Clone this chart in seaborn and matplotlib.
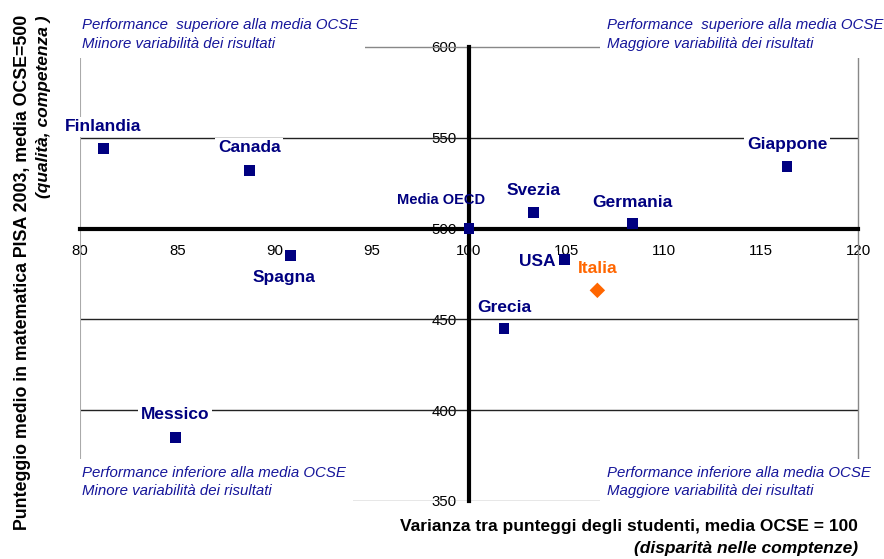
import matplotlib
matplotlib.use("Agg")
import matplotlib.pyplot as plt
import seaborn as sns
import pandas as pd

# ---- data ----
paesi = ["Finlandia", "Canada", "Spagna", "Media OECD", "Svezia", "Germania",
         "USA", "Italia", "Grecia", "Messico", "Giappone"]
varianza = [81.2, 88.7, 90.8, 100.0, 103.3, 108.4, 104.9, 106.6, 101.8, 84.9, 116.35]
punteggio = [544, 532, 485, 500, 509, 503, 483, 466, 445, 385, 534]
gruppo = ["paese"] * 7 + ["Italia"] + ["paese"] * 3

x_ticks = [80, 85, 90, 95, 100, 105, 110, 115, 120]
y_ticks = [350, 400, 450, 500, 550, 600]

quadranti = [
    "Performance  superiore alla media OCSE\nMiinore variabilità dei risultati",
    "Performance  superiore alla media OCSE\nMaggiore variabilità dei risultati",
    "Performance inferiore alla media OCSE\nMinore variabilità dei risultati",
    "Performance inferiore alla media OCSE\nMaggiore variabilità dei risultati",
]
y_label1 = "Punteggio medio in matematica PISA 2003, media OCSE=500"
y_label2 = "(qualità, competenza )"
x_label1 = "Varianza tra punteggi degli studenti, media OCSE = 100"
x_label2 = "(disparità nelle comptenze)"

# label offsets in pixels (layout)
offsets = {
    "Finlandia": (0, 22, "center"), "Canada": (0, 22.5, "center"),
    "Spagna": (-6, -22, "center"), "Media OECD": (-27.5, 28.5, "center"),
    "Svezia": (0, 22, "center"), "Germania": (0, 21, "center"),
    "USA": (-9, -2, "right"), "Italia": (0, 22, "center"),
    "Grecia": (0, 21, "center"), "Messico": (0, 23, "center"),
    "Giappone": (0, 22, "center"),
}

df = pd.DataFrame({"paese": paesi, "varianza": varianza,
                   "punteggio": punteggio, "gruppo": gruppo})

sns.set_style("white")
plt.rcParams["font.family"] = ["Liberation Sans", "DejaVu Sans"]

NAVY = "#000080"
ORANGE = "#FF6600"
QBLUE = "#15159A"

fig = plt.figure(figsize=(8.84, 5.59), dpi=100)
ax = fig.add_axes([80 / 884, 1 - 501 / 559, 778 / 884, 454 / 559])

ax.set_xlim(80, 120)
ax.set_ylim(350, 600)

# gridlines / frame
for y in y_ticks:
    if y in (400, 450, 550):
        ax.axhline(y, color="#222222", lw=1, zorder=1)
ax.axhline(350, color="#888888", lw=1, zorder=1)
ax.axvline(80, color="#aaaaaa", lw=1.5, zorder=1)

sns.scatterplot(data=df, x="varianza", y="punteggio", hue="gruppo", style="gruppo",
                markers={"paese": "s", "Italia": "D"},
                palette={"paese": NAVY, "Italia": ORANGE},
                s=62, edgecolor="none", legend=False, ax=ax, zorder=6)

# spines crossing at (100, 500)
ax.spines["left"].set_position(("data", 100))
ax.spines["bottom"].set_position(("data", 500))
for s in ("left", "bottom"):
    ax.spines[s].set_linewidth(3)
    ax.spines[s].set_color("black")
    ax.spines[s].set_zorder(4)
for s in ("top", "right"):
    ax.spines[s].set_linewidth(1)
    ax.spines[s].set_color("#888888")

ax.set_xticks(x_ticks)
ax.set_yticks(y_ticks)
ax.set_xticklabels([str(t) for t in x_ticks])
ax.set_yticklabels([str(t) for t in y_ticks])
ax.tick_params(axis="x", direction="inout", length=6, width=2.5, pad=8,
               labelsize=10.8, colors="black")
ax.tick_params(axis="y", direction="inout", length=6, width=2.5, pad=6,
               labelsize=10.8, colors="black")
ax.set_xlabel("")
ax.set_ylabel("")

# data labels
for p, xv, yv in zip(paesi, varianza, punteggio):
    dx, dy, ha = offsets[p]
    col = ORANGE if p == "Italia" else NAVY
    size = 10.5 if p == "Media OECD" else 12.5
    bbox = None if p == "Media OECD" else dict(boxstyle="square,pad=0.15", fc="white", ec="none")
    ax.annotate(p, (xv, yv), xytext=(dx, dy), textcoords="offset pixels",
                ha=ha, va="center", fontsize=size, fontweight="bold", color=col,
                bbox=bbox, zorder=7, annotation_clip=False)

# quadrant labels
qpos = [(0.0026, 1.0275, "left"), (0.6774, 1.0275, "left"),
        (0.0026, 0.0419, "left"), (0.6774, 0.0419, "left")]
for txt, (qx, qy, ha) in zip(quadranti, qpos):
    ax.text(qx, qy, txt, transform=ax.transAxes, ha=ha, va="center",
            fontsize=10.8, fontstyle="italic", color=QBLUE, linespacing=1.45,
            bbox=dict(boxstyle="square,pad=0.45", fc="white", ec="none"),
            zorder=8, clip_on=False)

# axis titles
fig.text(22.5 / 884, 1 - 15 / 559, y_label1, rotation=90, ha="center", va="top",
         fontsize=12.75, fontweight="bold", color="black")
fig.text(44 / 884, 1 - 15 / 559, y_label2, rotation=90, ha="center", va="top",
         fontsize=12.5, fontweight="bold", fontstyle="italic", color="black")
fig.text(858 / 884, 1 - 527 / 559, x_label1, ha="right", va="center",
         fontsize=12.5, fontweight="bold", color="black")
fig.text(858 / 884, 1 - 549 / 559, x_label2, ha="right", va="center",
         fontsize=12.5, fontweight="bold", fontstyle="italic", color="black")

fig.savefig("out.png", dpi=100)
